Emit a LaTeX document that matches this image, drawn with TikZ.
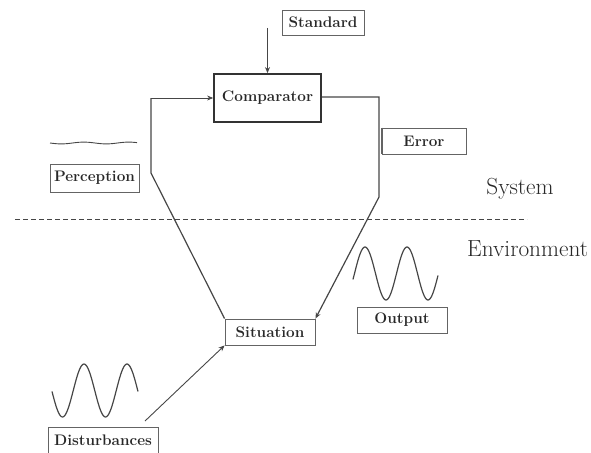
\documentclass[tikz,border=0pt]{standalone}
\usetikzlibrary{arrows.meta,positioning,calc}
\definecolor{cLine}{RGB}{70,70,70}
\definecolor{cBox}{RGB}{100,100,100}
\definecolor{cText}{RGB}{40,40,40}
\newcommand{\lblfont}{\fontsize{15.3}{17}\selectfont\bfseries}
\newcommand{\regfont}{\fontsize{23.3}{26}\selectfont}
\tikzset{
    box/.style={rectangle, draw=cBox, line width=0.9pt, inner sep=0pt,
        text=cText, font=\lblfont, align=center},
    cmpbox/.style={box, draw=black!80, line width=1.8pt},
    region/.style={text=cText, font=\regfont, inner sep=0pt},
    arr/.style={-{Stealth[length=6pt,width=5pt]}, line width=1.2pt, #1},
    arr/.default={cLine},
    conn/.style={line width=1.2pt, cLine},
    wave/.style={cLine, line width=1.2pt, smooth},
    sep/.style={cLine, line width=1pt, dash pattern=on 5pt off 3pt},
}
\begin{document}
\begin{tikzpicture}[x=1pt, y=-1pt]
\useasboundingbox (0,0) rectangle (591,452);

% ================================================================
%  SYSTEM — comparator loop
% ================================================================
\node[box, minimum width=82, minimum height=25] (std) at (323,22.5) {Standard};
\node[cmpbox, minimum width=107, minimum height=48] (comp) at (267.5,98) {Comparator};
\node[box, minimum width=84, minimum height=26] (err) at (424,141) {Error};
\draw[line width=2pt, cBox] (err.north west) -- (err.south west);
\node[box, minimum width=89, minimum height=28] (perc) at (94.5,178) {Perception};

% Standard -> Comparator
\coordinate (stdtail) at (267.5,28);
\draw[arr] (stdtail) -- (comp.north);

% ================================================================
%  ENVIRONMENT
% ================================================================
\node[box, minimum width=90, minimum height=26] (sit) at (270,332) {Situation};
\node[box, minimum width=90, minimum height=26] (out) at (402,320) {Output};
\node[box, minimum width=110, minimum height=32, text height=11pt, text depth=7pt]
    (dist) at (103,443) {Disturbances};

% region labels and boundary
\node[region] (sys) at (520,189) {System};
\node[region, anchor=west] (env) at (467,249) {Environment};
\coordinate (sepl) at (15,219);
\coordinate (sepr) at (527,219);
\draw[sep] (sepl) -- (sepr);

% ── Error branch: comparator -> situation (right side) ──
\coordinate (eturn) at (379,97);
\coordinate (ebend) at (379,197);
\draw[arr] (comp.east |- eturn) -- (eturn) -- (ebend) -- (sit.north east);

% ── Perception branch: situation -> comparator (left side) ──
\coordinate (pbend) at (151,173);
\coordinate (ptop) at (151,98);
\draw[conn] (sit.north west) -- (pbend) -- (ptop);
\draw[arr, line width=0.7pt] (ptop) -- (comp.west);

% Disturbances -> Situation
\coordinate (dtail) at (145,421);
\draw[arr, line width=0.9pt] (dtail) -- (sit.south west);

% ── Signals ──
\draw[wave, line width=0.9pt] plot[domain=50:137, samples=40] (\x, {143+0.9*sin(8*(\x-50))});
\draw[wave] plot[domain=52:138, samples=90] (\x, {390.5-26.5*cos(8.372*(\x-84))});
\draw[wave] plot[domain=353:438, samples=90] (\x, {273.5-26.5*cos(8.571*(\x-365))});

\end{tikzpicture}
\end{document}
